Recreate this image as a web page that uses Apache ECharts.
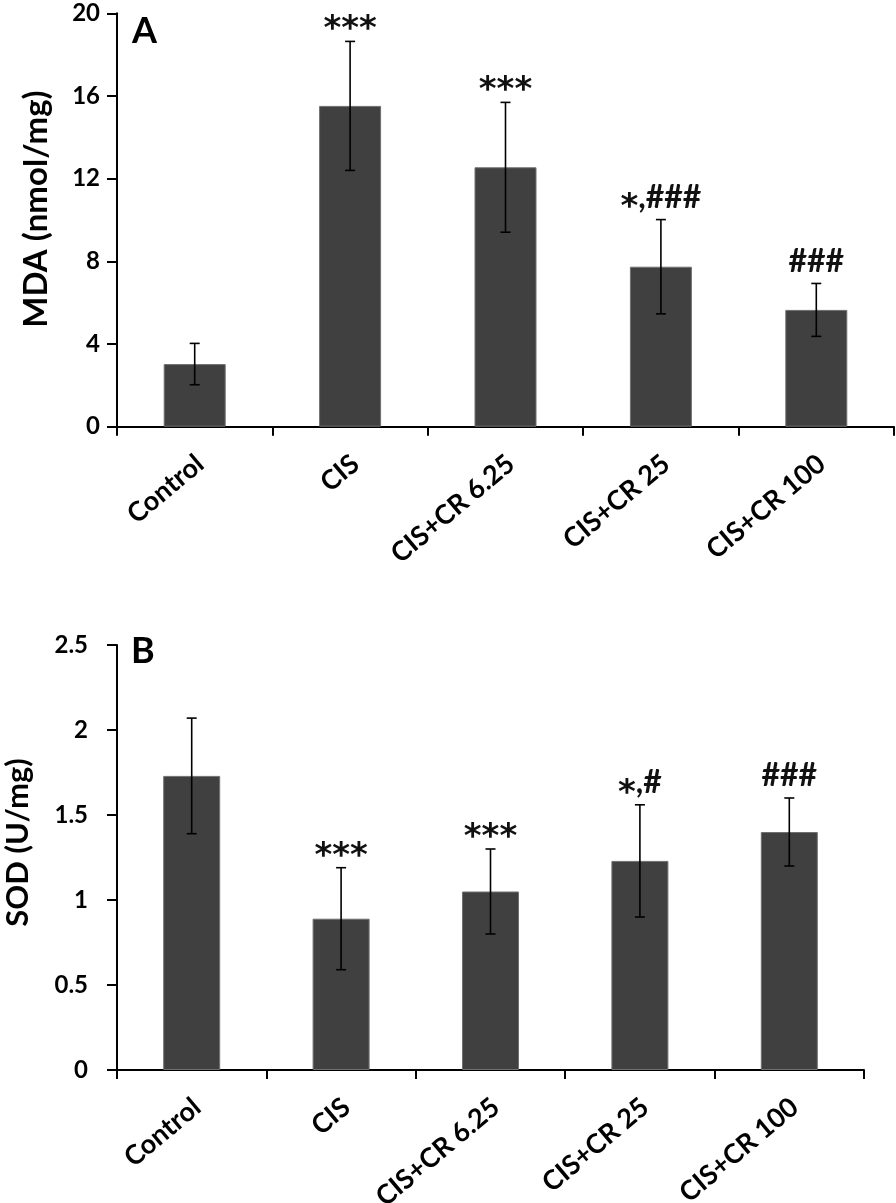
<!DOCTYPE html>
<html>
<head>
<meta charset="utf-8">
<script src="https://cdn.jsdelivr.net/npm/echarts@6/dist/echarts.min.js"></script>
<style>
html,body{margin:0;padding:0;background:#fff;}
#chart{width:896px;height:1203px;}
</style>
</head>
<body>
<div id="chart"></div>
<script>
const categories = ['Control', 'CIS', 'CIS+CR 6.25', 'CIS+CR 25', 'CIS+CR 100'];
const mdaMean = [3.03, 15.52, 12.55, 7.74, 5.65];
const mdaErr = [1.00, 3.12, 3.14, 2.28, 1.28];
const mdaSig = ['', '***', '***', '*,###', '###'];
const sodMean = [1.73, 0.89, 1.05, 1.23, 1.40];
const sodErr = [0.34, 0.30, 0.25, 0.33, 0.20];
const sodSig = ['', '***', '***', '*,#', '###'];
const mdaAxis = { min: 0, max: 20, interval: 4 };
const sodAxis = { min: 0, max: 2.5, interval: 0.5 };

const FONT = 'Lato';
const chart = echarts.init(document.getElementById('chart'), null, { renderer: 'canvas' });

function errData(mean, err) {
  return mean.map((m, i) => [i, m + err[i], m - err[i]]);
}
function richSig(s) {
  return s.split('').map(ch => ch === '*' ? '{a|*}' : '{h|' + ch + '}').join('');
}
function makeRender(sigs) {
  return function (params, api) {
    const i = api.value(0);
    const hi = api.coord([i, api.value(1)]);
    const lo = api.coord([i, api.value(2)]);
    const label = sigs[params.dataIndex];
    const cap = 5;
    const st = { stroke: '#000', lineWidth: 1.6 };
    const children = [
      { type: 'line', shape: { x1: hi[0], y1: hi[1], x2: lo[0], y2: lo[1] }, style: st },
      { type: 'line', shape: { x1: hi[0] - cap, y1: hi[1], x2: hi[0] + cap, y2: hi[1] }, style: st },
      { type: 'line', shape: { x1: lo[0] - cap, y1: lo[1], x2: lo[0] + cap, y2: lo[1] }, style: st }
    ];
    if (label) {
      children.push({
        type: 'text',
        style: {
          text: richSig(label), x: hi[0], y: hi[1] - 6,
          align: 'center', verticalAlign: 'bottom',
          fill: '#111',
          rich: {
            h: { fontFamily: FONT, fontWeight: 'bold', fontSize: 32, lineHeight: 28, verticalAlign: 'bottom', fill: '#111' },
            a: { fontFamily: 'DejaVu Sans', fontWeight: 'bold', fontSize: 34, verticalAlign: 'bottom', padding: [0, 0, -12, 0], fill: '#111' }
          }
        }
      });
    }
    return { type: 'group', children };
  };
}

const axisLineStyle = { color: '#000', width: 2 };

function xAxisCfg(gridIndex) {
  return {
    type: 'category', gridIndex, data: categories,
    axisLine: { show: true, lineStyle: axisLineStyle },
    axisTick: { show: true, length: 9, lineStyle: axisLineStyle },
    axisLabel: {
      rotate: 40, margin: 38, color: '#000',
      fontFamily: FONT, fontWeight: 'bold', fontSize: 27,
      padding: [0, -7, 0, 0],
      interval: 0
    },
    splitLine: { show: false }
  };
}

const option = {
  animation: false,
  backgroundColor: '#fff',
  title: [
    { text: 'A', left: 127, top: 8, textStyle: { fontFamily: FONT, fontWeight: 'bold', fontSize: 36, color: '#000' } },
    { text: 'B', left: 126, top: 628, textStyle: { fontFamily: FONT, fontWeight: 'bold', fontSize: 36, color: '#000' } }
  ],
  grid: [
    { left: 117, top: 13.3, width: 777, height: 413.4, containLabel: false, outerBoundsMode: 'none' },
    { left: 117, top: 645, width: 747, height: 425, containLabel: false, outerBoundsMode: 'none' }
  ],
  xAxis: [xAxisCfg(0), xAxisCfg(1)],
  yAxis: [
    {
      type: 'value', gridIndex: 0, min: mdaAxis.min, max: mdaAxis.max, interval: mdaAxis.interval,
      name: 'MDA (nmol/mg)', nameLocation: 'middle', nameGap: 64,
      nameTextStyle: { fontFamily: FONT, fontWeight: 'bold', fontSize: 33, color: '#000', padding: [0, 0, 0, 22] },
      axisLine: { show: true, lineStyle: axisLineStyle },
      axisTick: { show: true, length: 10, lineStyle: axisLineStyle },
      axisLabel: { margin: 17, color: '#000', fontFamily: FONT, fontWeight: 'bold', fontSize: 24 },
      splitLine: { show: false }
    },
    {
      type: 'value', gridIndex: 1, min: sodAxis.min, max: sodAxis.max, interval: sodAxis.interval,
      name: 'SOD (U/mg)', nameLocation: 'middle', nameGap: 84,
      nameTextStyle: { fontFamily: FONT, fontWeight: 'bold', fontSize: 31, color: '#000', padding: [0, 0, 0, 30] },
      axisLine: { show: true, lineStyle: axisLineStyle },
      axisTick: { show: true, length: 10, lineStyle: axisLineStyle },
      axisLabel: { margin: 29, color: '#000', fontFamily: FONT, fontWeight: 'bold', fontSize: 24 },
      splitLine: { show: false }
    }
  ],
  series: [
    {
      type: 'bar', xAxisIndex: 0, yAxisIndex: 0, data: mdaMean, barWidth: 62,
      itemStyle: { color: '#404040', borderColor: '#707070', borderWidth: 1 }
    },
    {
      type: 'custom', xAxisIndex: 0, yAxisIndex: 0, data: errData(mdaMean, mdaErr),
      renderItem: makeRender(mdaSig), z: 10
    },
    {
      type: 'bar', xAxisIndex: 1, yAxisIndex: 1, data: sodMean, barWidth: 57,
      itemStyle: { color: '#404040', borderColor: '#707070', borderWidth: 1 }
    },
    {
      type: 'custom', xAxisIndex: 1, yAxisIndex: 1, data: errData(sodMean, sodErr),
      renderItem: makeRender(sodSig), z: 10
    }
  ]
};
chart.setOption(option);
</script>
</body>
</html>
